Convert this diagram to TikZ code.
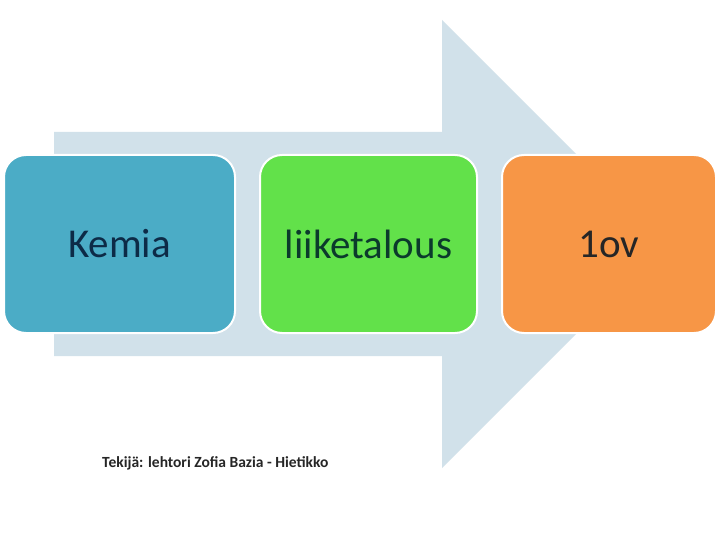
\documentclass[tikz,border=0pt]{standalone}
\usepackage{fontspec}
\setmainfont{Carlito}
\definecolor{arrowc}{HTML}{D1E1EA}
\definecolor{bluec}{HTML}{4BACC6}
\definecolor{greenc}{HTML}{62E14A}
\definecolor{orangec}{HTML}{F79646}
\definecolor{txtblue}{HTML}{0D2B47}
\definecolor{txtgreen}{HTML}{0B3A2C}
\definecolor{txtorange}{HTML}{262626}
\begin{document}
\begin{tikzpicture}[x=1pt,y=-1pt,
  box/.style={rectangle, rounded corners=22pt, draw=white, line width=2pt,
    minimum height=178pt, inner sep=0pt,
    font=\fontsize{41}{49}\selectfont}]
\useasboundingbox (0,0) rectangle (720,540);
\fill[white] (0,0) rectangle (720,540);
% big arrow
\fill[arrowc] (54,132) -- (442,132) -- (442,20) -- (666,244) -- (442,468) -- (442,356) -- (54,356) -- cycle;
\node[box, fill=bluec, text=txtblue, minimum width=231pt] (kemia) at (119.5,244) {Kemia};
\node[box, fill=greenc, text=txtgreen, minimum width=217pt] (liike) at (368.5,244) {liiketalous};
\node[box, fill=orangec, text=txtorange, minimum width=214pt] (ov) at (609,244) {1ov};
\node[font=\fontsize{15.5}{18}\selectfont\bfseries, text=black!85, inner sep=0pt, anchor=base west] (author) at (102,467) {Tekijä: lehtori Zofia Bazia - Hietikko};
\end{tikzpicture}
\end{document}
